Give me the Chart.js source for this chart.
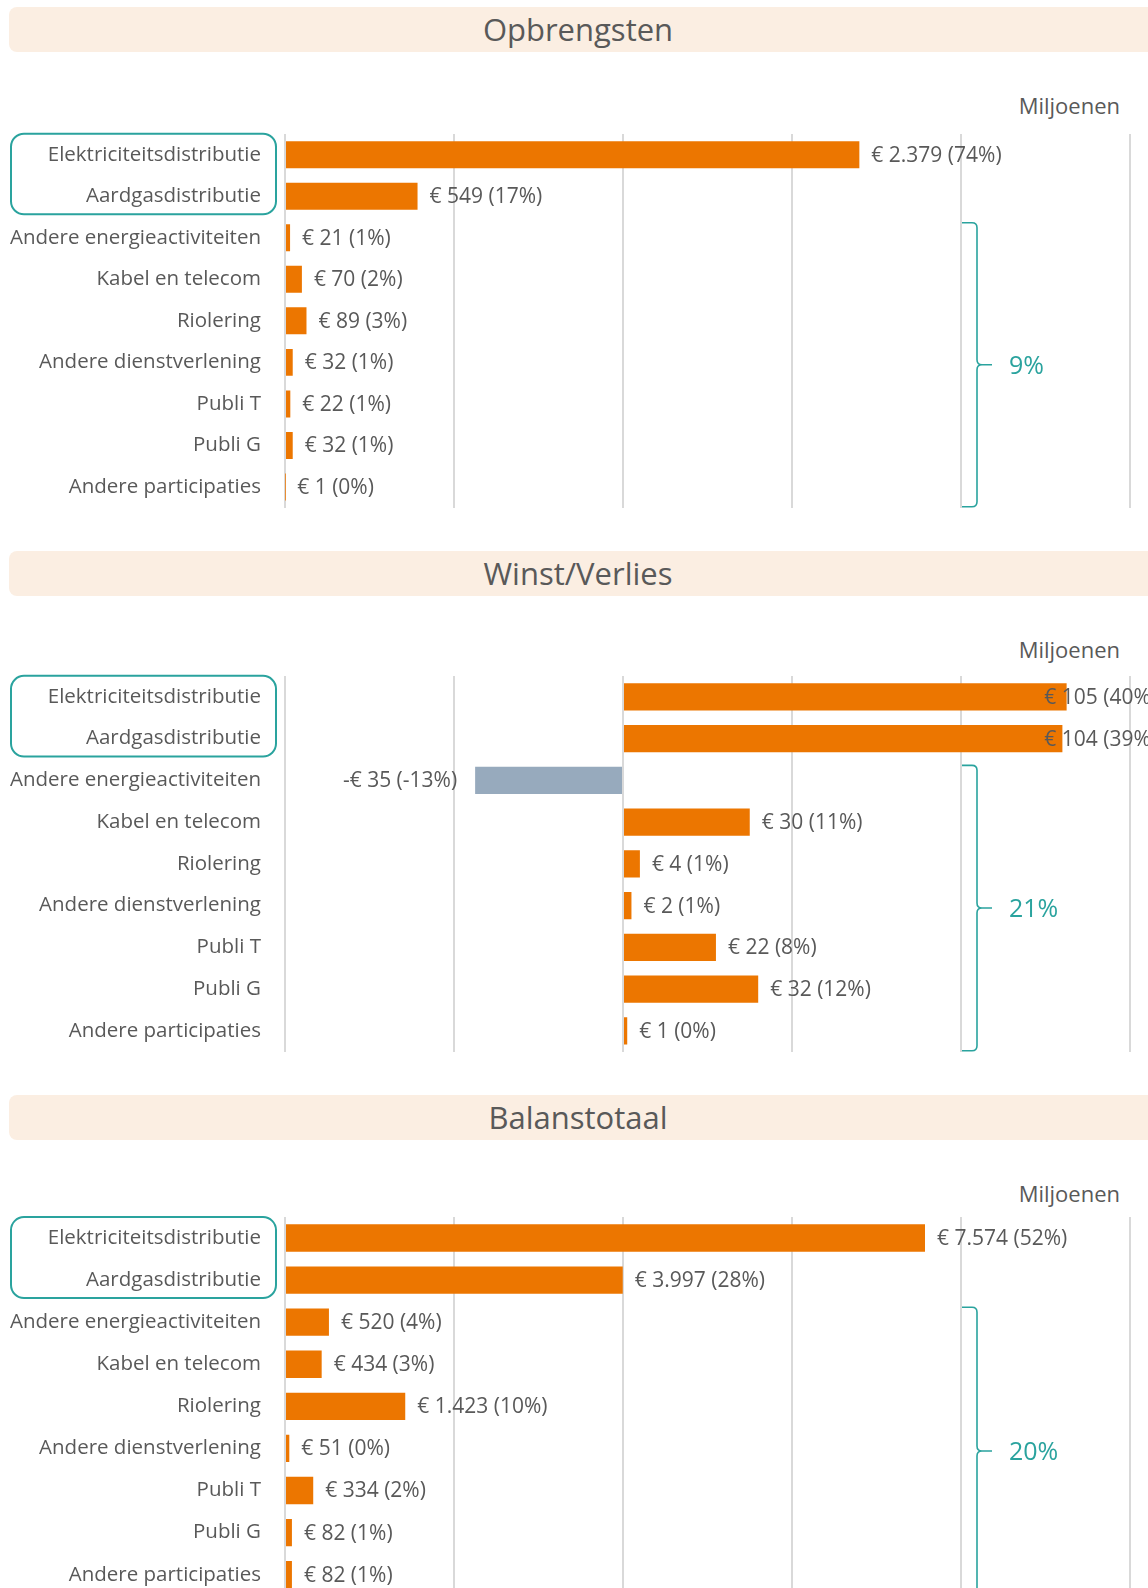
<!DOCTYPE html>
<html lang="nl">
<head>
<meta charset="utf-8">
<title>Opbrengsten, Winst/Verlies, Balanstotaal</title>
<script src="https://cdn.jsdelivr.net/npm/chart.js@4"></script>
<style>
  body { margin: 0; width: 1148px; height: 1588px; overflow: hidden; background: #fff; font-family: "Open Sans", sans-serif; color: #595959; }
  .paneel { position: absolute; left: 0; width: 1148px; height: 544px; }
  .band { position: absolute; left: 9px; top: 7px; width: 1150px; height: 45px; background: #fbeee2; border-radius: 8px; }
  .titel { position: absolute; left: 0; top: 7px; width: 1156px; height: 45px; line-height: 45px; text-align: center; font-size: 31px; color: #595959; }
  .eenheid { position: absolute; right: 28px; top: 90px; font-size: 22px; line-height: 30px; color: #595959; }
  canvas { position: absolute; left: 0; top: 0; }
</style>
</head>
<body>
<div id="panelen"></div>
<script>
// categorieen (zelfde voor de drie grafieken)
const categorieen = [
  "Elektriciteitsdistributie",
  "Aardgasdistributie",
  "Andere energieactiviteiten",
  "Kabel en telecom",
  "Riolering",
  "Andere dienstverlening",
  "Publi T",
  "Publi G",
  "Andere participaties"
];

const titels = ["Opbrengsten", "Winst/Verlies", "Balanstotaal"];

// miljoenen euro
const opbrengsten = [2379, 549, 21, 70, 89, 32, 22, 32, 1];
const opbrengstenPct = [74, 17, 1, 2, 3, 1, 1, 1, 0];

const winstVerlies = [105, 104, -35, 30, 4, 2, 22, 32, 1];
const winstVerliesPct = [40, 39, -13, 11, 1, 1, 8, 12, 0];

const balanstotaal = [7574, 3997, 520, 434, 1423, 51, 334, 82, 82];
const balanstotaalPct = [52, 28, 4, 3, 10, 0, 2, 1, 1];

// aandeel van de overige activiteiten (accolade rechts)
const overigeAandeel = ["9%", "21%", "20%"];

// assen
const asMin = [0, -80, 0];
const asMax = [3500, 120, 10000];
const asStap = [700, 40, 2000];

// kleine verschuiving van het plotgebied per paneel
const plotVerschuiving = [2, 0, -3];

const ORANJE = "#ec7600";
const GRIJSBLAUW = "#97aabd";
const TEAL = "#2aa39e";
const TEKST = "#595959";
const FONT = "'Open Sans', sans-serif";

const euro = (v) => {
  const s = String(Math.abs(v)).replace(/\B(?=(\d{3})+(?!\d))/g, ".");
  return (v < 0 ? "-€ " : "€ ") + s;
};

//*****************************************************/
//***************** LABELS BIJ DE BALKEN **************/
//*****************************************************/

const waardeLabels = {
  id: "waardeLabels",
  afterDatasetsDraw(chart, args, opts) {
    const ctx = chart.ctx;
    const data = chart.data.datasets[0].data;
    ctx.save();
    ctx.font = "21px " + FONT;
    ctx.fillStyle = TEKST;
    ctx.textBaseline = "middle";
    chart.getDatasetMeta(0).data.forEach((bar, i) => {
      const v = data[i];
      const tekst = euro(v) + " (" + opts.pct[i] + "%)";
      if (v < 0) {
        ctx.textAlign = "right";
        ctx.fillText(tekst, bar.x - 18, bar.y + 1);
      } else {
        // label blijft binnen het grafiekgebied, zoals in Excel
        const w = ctx.measureText(tekst).width;
        const x = Math.min(bar.x + 12, chart.width + 9 - w);
        ctx.textAlign = "left";
        ctx.fillText(tekst, x, bar.y + 1);
      }
    });
    ctx.restore();
  }
};

//*****************************************************/
//*************** KADER EN ACCOLADE *******************/
//*****************************************************/

const kader = {
  id: "kader",
  afterDraw(chart, args, opts) {
    const { ctx, chartArea } = chart;
    const x = chart.scales.x;
    const y = chart.scales.y;
    ctx.save();

    // kader rond de twee distributie-activiteiten
    const kTop = y.getPixelForValue(0) - 21;
    const kBodem = y.getPixelForValue(1) + 18;
    ctx.strokeStyle = TEAL;
    ctx.lineWidth = 2;
    ctx.beginPath();
    ctx.roundRect(11, kTop, 265, kBodem - kTop, 13);
    ctx.stroke();

    // accolade voor de overige activiteiten
    const bx = x.getPixelForValue(opts.min + 4 * opts.stap) + 1;
    const vx = bx + 15;
    const tx = vx + 15;
    const top = y.getPixelForValue(2) - 15;
    const bodem = chartArea.bottom - 1;
    const mid = (top + bodem) / 2;
    const r = 5;
    ctx.lineWidth = 1.6;
    ctx.beginPath();
    ctx.moveTo(bx, top);
    ctx.lineTo(vx - r, top);
    ctx.quadraticCurveTo(vx, top, vx, top + r);
    ctx.lineTo(vx, mid - r);
    ctx.quadraticCurveTo(vx, mid, vx + r, mid);
    ctx.lineTo(tx, mid);
    ctx.moveTo(vx + r, mid);
    ctx.quadraticCurveTo(vx, mid, vx, mid + r);
    ctx.lineTo(vx, bodem - r);
    ctx.quadraticCurveTo(vx, bodem, vx - r, bodem);
    ctx.lineTo(bx, bodem);
    ctx.stroke();

    ctx.fillStyle = TEAL;
    ctx.font = "25px " + FONT;
    ctx.textAlign = "left";
    ctx.textBaseline = "middle";
    ctx.fillText(opts.tekst, vx + 32, mid + 2);
    ctx.restore();
  }
};

//*****************************************************/
//***************** DE DRIE GRAFIEKEN *****************/
//*****************************************************/

const maakPaneel = (nr, waarden, pct) => {
  const paneel = document.createElement("div");
  paneel.className = "paneel";
  paneel.style.top = nr * 544 + "px";
  paneel.innerHTML = `<div class="band"></div>
                      <div class="titel">${titels[nr]}</div>
                      <div class="eenheid">Miljoenen</div>
                      <canvas width="1148" height="544"></canvas>`;
  document.getElementById("panelen").appendChild(paneel);

  const d = plotVerschuiving[nr];

  new Chart(paneel.querySelector("canvas"), {
    type: "bar",
    data: {
      labels: categorieen,
      datasets: [
        {
          data: waarden,
          backgroundColor: waarden.map((v) => (v < 0 ? GRIJSBLAUW : ORANJE)),
          borderWidth: 0,
          categoryPercentage: 1,
          barPercentage: 0.65,
        },
      ],
    },
    options: {
      indexAxis: "y",
      responsive: false,
      animation: false,
      layout: { padding: { left: 0, right: 18, top: 132 + d, bottom: 33 - d } },
      plugins: {
        legend: { display: false },
        tooltip: { enabled: false },
        waardeLabels: { pct: pct },
        kader: { tekst: overigeAandeel[nr], min: asMin[nr], stap: asStap[nr] },
      },
      scales: {
        x: {
          min: asMin[nr],
          max: asMax[nr],
          ticks: { display: false, stepSize: asStap[nr] },
          grid: { color: "#d9d9d9", lineWidth: 2, drawTicks: false },
          border: { display: false },
          afterFit: (s) => { s.height = 0; },
        },
        y: {
          ticks: { color: TEKST, font: { family: FONT, size: 20.5 }, padding: 24, autoSkip: false },
          grid: { display: false, drawTicks: false },
          border: { display: false },
          afterFit: (s) => { s.width = 285; },
        },
      },
    },
    plugins: [waardeLabels, kader],
  });
};

maakPaneel(0, opbrengsten, opbrengstenPct);
maakPaneel(1, winstVerlies, winstVerliesPct);
maakPaneel(2, balanstotaal, balanstotaalPct);
</script>
</body>
</html>
